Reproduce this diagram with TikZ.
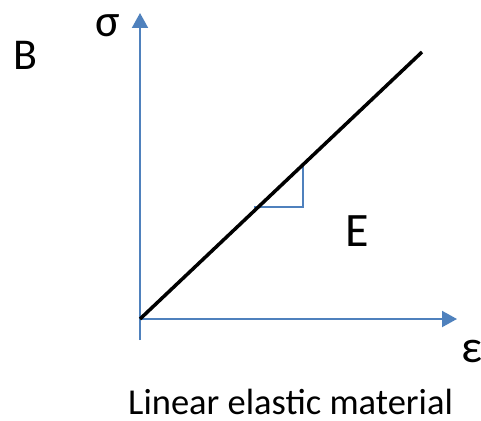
\documentclass[tikz,border=0pt]{standalone}
\usepackage{fontspec}
\setmainfont{Carlito}
\usetikzlibrary{arrows.meta}
\definecolor{axisblue}{RGB}{79,129,189}
\tikzset{
  axisline/.style={draw=axisblue, line width=2pt},
  axisarrow/.style={axisline, -{Triangle[width=16pt,length=15pt]}},
  curve/.style={draw=black, line width=3.5pt},
  lbl/.style={inner sep=0pt, anchor=base west, text=black}
}
\begin{document}
\begin{tikzpicture}[x=1pt,y=-1pt]
\useasboundingbox (0,0) rectangle (481,420);
\coordinate (O) at (140,319);
\coordinate (ytop) at (140,13);
\coordinate (ybot) at (140,340);
\coordinate (xend) at (457,319);
\coordinate (lend) at (422,52);
\coordinate (ta) at (254,207);
\coordinate (tb) at (303,207);
\coordinate (tc) at (303,165);
\draw[axisarrow] (ybot) -- (ytop);
\draw[axisarrow] (O) -- (xend);
\draw[axisline, line width=2.2pt] (ta) -- (tb) -- (tc);
\draw[curve] (O) -- (lend);
\node[lbl] (sig) at (95,37) {\fontsize{46}{46}\selectfont σ};
\node[lbl] (B) at (13,70) {\fontsize{44}{44}\selectfont B};
\node[lbl] (E) at (345,246) {\fontsize{48}{48}\selectfont E};
\node[lbl] (eps) at (461,362) {\fontsize{46}{46}\selectfont ε};
\node[lbl] (cap) at (128,414) {\fontsize{36.5}{36.5}\selectfont Linear elastic material};
\end{tikzpicture}
\end{document}
